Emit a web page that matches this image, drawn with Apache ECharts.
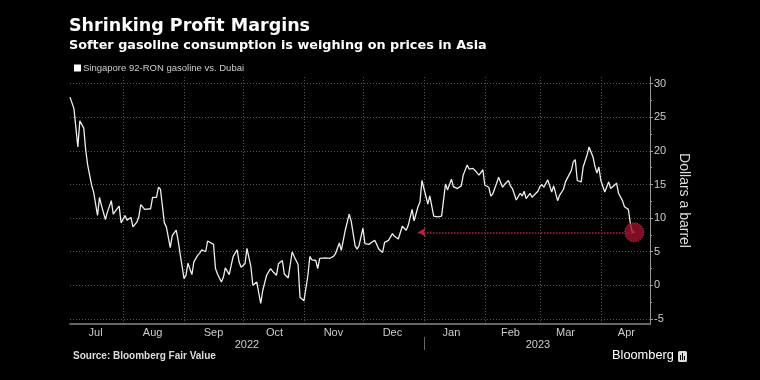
<!DOCTYPE html>
<html>
<head>
<meta charset="utf-8">
<script src="https://cdn.jsdelivr.net/npm/echarts@6/dist/echarts.min.js"></script>
<style>
html,body{margin:0;padding:0;background:#000;}
#chart{width:760px;height:380px;}
</style>
</head>
<body>
<div id="chart"></div>
<script>
// ---- data ----
const dates = [
'2022-07-05','2022-07-07','2022-07-09','2022-07-10','2022-07-12','2022-07-13','2022-07-14','2022-07-16','2022-07-17','2022-07-19','2022-07-20','2022-07-21','2022-07-23','2022-07-24','2022-07-26','2022-07-27','2022-07-29','2022-07-30','2022-07-31',
'2022-08-02','2022-08-03','2022-08-05','2022-08-06','2022-08-08','2022-08-09','2022-08-10','2022-08-12','2022-08-13','2022-08-15','2022-08-16','2022-08-18','2022-08-19','2022-08-20','2022-08-22','2022-08-23','2022-08-25','2022-08-26','2022-08-28','2022-08-29','2022-08-30',
'2022-09-01','2022-09-02','2022-09-03','2022-09-05','2022-09-06','2022-09-08','2022-09-09','2022-09-10','2022-09-12','2022-09-13','2022-09-14','2022-09-16','2022-09-17','2022-09-18','2022-09-20','2022-09-21','2022-09-22','2022-09-24','2022-09-25','2022-09-26','2022-09-28','2022-09-29','2022-09-30',
'2022-10-02','2022-10-03','2022-10-05','2022-10-06','2022-10-08','2022-10-10','2022-10-11','2022-10-13','2022-10-15','2022-10-16','2022-10-18','2022-10-19','2022-10-21','2022-10-22','2022-10-24','2022-10-26','2022-10-27','2022-10-29','2022-10-30',
'2022-11-01','2022-11-03','2022-11-04','2022-11-05','2022-11-07','2022-11-08','2022-11-09','2022-11-10','2022-11-12','2022-11-13','2022-11-14','2022-11-16','2022-11-17','2022-11-19','2022-11-20','2022-11-22','2022-11-24','2022-11-25','2022-11-27','2022-11-28','2022-11-29',
'2022-12-01','2022-12-02','2022-12-04','2022-12-05','2022-12-07','2022-12-08','2022-12-09','2022-12-11','2022-12-12','2022-12-14','2022-12-16','2022-12-17','2022-12-19','2022-12-21','2022-12-23','2022-12-24','2022-12-26','2022-12-27','2022-12-29','2022-12-30','2022-12-31',
'2023-01-03','2023-01-04','2023-01-06','2023-01-08','2023-01-10','2023-01-12','2023-01-13','2023-01-15','2023-01-16','2023-01-18','2023-01-20','2023-01-21','2023-01-23','2023-01-24','2023-01-26','2023-01-27','2023-01-29','2023-01-31',
'2023-02-01','2023-02-03','2023-02-04','2023-02-05','2023-02-07','2023-02-08','2023-02-10','2023-02-11','2023-02-13','2023-02-14','2023-02-15','2023-02-16','2023-02-17','2023-02-19','2023-02-20','2023-02-21','2023-02-22','2023-02-24','2023-02-25','2023-02-26','2023-02-28',
'2023-03-01','2023-03-02','2023-03-03','2023-03-05','2023-03-07','2023-03-08','2023-03-10','2023-03-11','2023-03-13','2023-03-14','2023-03-15','2023-03-17','2023-03-18','2023-03-19','2023-03-20','2023-03-22','2023-03-23','2023-03-25','2023-03-26','2023-03-27','2023-03-28','2023-03-29','2023-03-30','2023-03-31',
'2023-04-01','2023-04-03','2023-04-04','2023-04-05','2023-04-06','2023-04-07','2023-04-09','2023-04-10','2023-04-12','2023-04-13','2023-04-15','2023-04-16','2023-04-17','2023-04-18'
];
const spread = [
28.0,26.3,20.6,24.5,23.4,20.1,17.9,14.9,13.9,10.4,13.1,11.9,9.8,10.9,12.6,10.6,11.4,11.8,9.3,
10.4,9.7,10.1,8.7,9.4,10.2,12.0,11.3,11.5,11.4,13.1,13.1,14.6,14.3,9.3,8.7,5.6,7.4,8.2,6.7,4.7,
1.0,1.5,3.3,1.6,3.5,4.5,4.8,5.3,5.0,6.6,6.5,6.1,2.5,1.7,0.5,1.2,2.6,1.6,3.0,4.3,5.3,3.5,2.7,
3.2,5.5,2.8,0.0,0.5,-2.7,-0.8,1.5,2.5,2.1,1.5,3.2,3.7,1.7,1.1,5.0,4.3,3.1,-1.8,
-2.3,1.5,4.3,3.8,3.7,2.5,4.0,3.8,4.1,4.0,4.0,4.3,4.7,6.3,5.2,8.2,10.6,9.6,5.9,5.4,5.9,
8.5,6.2,6.1,5.9,6.7,6.1,5.4,4.9,6.4,6.7,7.7,7.3,6.9,8.8,8.2,8.9,11.3,9.6,11.7,12.4,15.6,
12.1,13.3,10.3,10.2,10.3,15.1,14.2,15.8,14.7,14.4,14.8,16.4,17.9,17.3,17.4,17.1,16.4,17.2,
14.9,14.6,13.3,13.6,15.2,16.1,14.6,15.0,15.6,14.8,14.4,14.3,12.7,13.7,13.3,14.0,12.9,13.7,13.1,13.4,14.0,
14.7,15.0,14.6,15.7,13.9,14.8,12.6,13.4,14.3,15.4,15.2,17.1,18.4,18.7,15.6,15.4,17.6,19.4,20.6,20.6,19.1,17.7,16.7,17.6,
15.6,13.9,13.7,15.4,14.4,14.4,15.2,13.7,12.6,11.7,11.3,9.2,7.9,7.9
];
const seriesName = 'Singapore 92-RON gasoline vs. Dubai';
const monthNames = ['Jan','Feb','Mar','Apr','May','Jun','Jul','Aug','Sep','Oct','Nov','Dec'];
const monthStarts = ['2022-08-01','2022-09-01','2022-10-01','2022-11-01','2022-12-01','2023-01-01','2023-02-01','2023-03-01','2023-04-01'];
const monthLabelDates = ['2022-07-18','2022-08-16','2022-09-16','2022-10-17','2022-11-16','2022-12-16','2023-01-15','2023-02-14','2023-03-14','2023-04-14'];
const yearLabelDates = ['2022-10-03','2023-02-28'];
const yearSeparator = ['2023-01-01'];
const yTicks = [-5,0,5,10,15,20,25,30];
const yMinorTicks = [-2.5,2.5,7.5,12.5,17.5,22.5,27.5];
const arrowStart = ['2022-12-29', 7.9];
const arrowEnd = ['2023-04-18', 7.9];
const xRange = ['2022-07-05', '2023-04-26'];

// date string -> timestamp (local midnight)
const ts = s => new Date(s + 'T00:00:00').getTime();

const chart = echarts.init(document.getElementById('chart'));
const xMin = ts(xRange[0]), xMax = ts(xRange[1]);
const lab = "'Liberation Sans', Arial, sans-serif";
const option = {
  backgroundColor: '#000',
  animation: false,
  title: [
    {text: 'Shrinking Profit Margins', left: 69, top: 17, padding: 0,
     textStyle: {color: '#fff', fontFamily: "'DejaVu Sans'", fontWeight: 'bold', fontSize: 17.5}},
    {text: 'Softer gasoline consumption is weighing on prices in Asia', left: 69, top: 39, padding: 0,
     textStyle: {color: '#fff', fontFamily: "'DejaVu Sans'", fontWeight: 'bold', fontSize: 12.8}}
  ],
  legend: {
    left: 74, top: 63, padding: 0, itemWidth: 7, itemHeight: 7, icon: 'rect',
    textStyle: {color: '#ccc', fontFamily: lab, fontSize: 9.5, padding: [0,0,0,-3]},
    data: [seriesName]
  },
  grid: {left: 70, right: 110, top: 77, bottom: 56},
  xAxis: [
    {
      type: 'value', min: xMin, max: xMax,
      axisLine: {show: true, onZero: false, lineStyle: {color: '#888', width: 1.5}},
      axisTick: {show: false, customValues: monthStarts.map(ts)},
      splitLine: {show: true, lineStyle: {color: '#555', type: [1, 2], width: 1}},
      axisLabel: {customValues: monthLabelDates.map(ts), color: '#ccc', fontFamily: lab, fontSize: 11, margin: 3,
        formatter: v => monthNames[new Date(v).getMonth()]}
    },
    {
      type: 'value', min: xMin, max: xMax, position: 'bottom', offset: 13,
      axisLine: {show: false, onZero: false},
      axisTick: {show: true, customValues: yearSeparator.map(ts), length: 13, lineStyle: {color: '#666'}},
      splitLine: {show: false},
      axisLabel: {customValues: yearLabelDates.map(ts), color: '#ccc', fontFamily: lab, fontSize: 11, margin: 2,
        formatter: v => String(new Date(v).getFullYear())}
    }
  ],
  yAxis: [
    {
      type: 'value', position: 'right', min: -5.75, max: 31,
      name: 'Dollars a barrel', nameLocation: 'middle', nameRotate: -90, nameGap: 27,
      nameTextStyle: {color: '#ddd', fontFamily: lab, fontSize: 14},
      axisLine: {show: true, onZero: false, lineStyle: {color: '#999'}},
      axisTick: {show: true, customValues: yTicks, length: 3, lineStyle: {color: '#999'}},
      axisLabel: {customValues: yTicks, color: '#ccc', fontFamily: lab, fontSize: 11, margin: 4},
      splitLine: {show: true, lineStyle: {color: '#555', type: [1, 2], width: 1}}
    },
    {
      type: 'value', position: 'right', min: -5.75, max: 31,
      axisLine: {show: false, onZero: false},
      axisTick: {show: true, customValues: yMinorTicks, length: 2, lineStyle: {color: '#999'}},
      axisLabel: {show: false},
      splitLine: {show: false}
    }
  ],
  series: [{
    name: seriesName,
    type: 'line',
    data: dates.map((d, i) => [ts(d), spread[i]]),
    showSymbol: false,
    symbol: 'none',
    itemStyle: {color: '#fff'},
    lineStyle: {color: '#eee', width: 1.3},
    markLine: {
      silent: true, symbol: ['arrow', 'none'], symbolSize: [7, 8],
      label: {show: false},
      lineStyle: {color: '#b3243f', type: [1.5, 1.5], width: 1.5},
      data: [[{coord: [ts(arrowStart[0]), arrowStart[1]]}, {coord: [ts(arrowEnd[0]), arrowEnd[1]]}]]
    },
    markPoint: {
      silent: true, symbol: 'circle', symbolSize: 19,
      label: {show: false},
      itemStyle: {color: 'rgba(160,18,45,0.78)', borderColor: 'rgba(225,80,105,0.9)', borderType: [1, 1.5], borderWidth: 1},
      data: [{coord: [ts(arrowEnd[0]), arrowEnd[1]]}]
    }
  }],
  graphic: [
    {type: 'text', left: 73, top: 351, style: {text: 'Source: Bloomberg Fair Value', fill: '#ddd', font: "bold 10px 'Liberation Sans'"}},
    {type: 'text', left: 612, top: 349, style: {text: 'Bloomberg', fill: '#fff', font: "12.8px 'Liberation Sans'"}},
    {type: 'rect', left: 678, top: 351, shape: {width: 9, height: 11, r: 1.5}, style: {fill: '#ddd'}},
    {type: 'rect', left: 680, top: 355, shape: {width: 1, height: 5}, style: {fill: '#000'}},
    {type: 'rect', left: 682, top: 353, shape: {width: 1, height: 7}, style: {fill: '#000'}},
    {type: 'rect', left: 684, top: 356, shape: {width: 1, height: 4}, style: {fill: '#000'}}
  ]
};
chart.setOption(option);
</script>
</body>
</html>
